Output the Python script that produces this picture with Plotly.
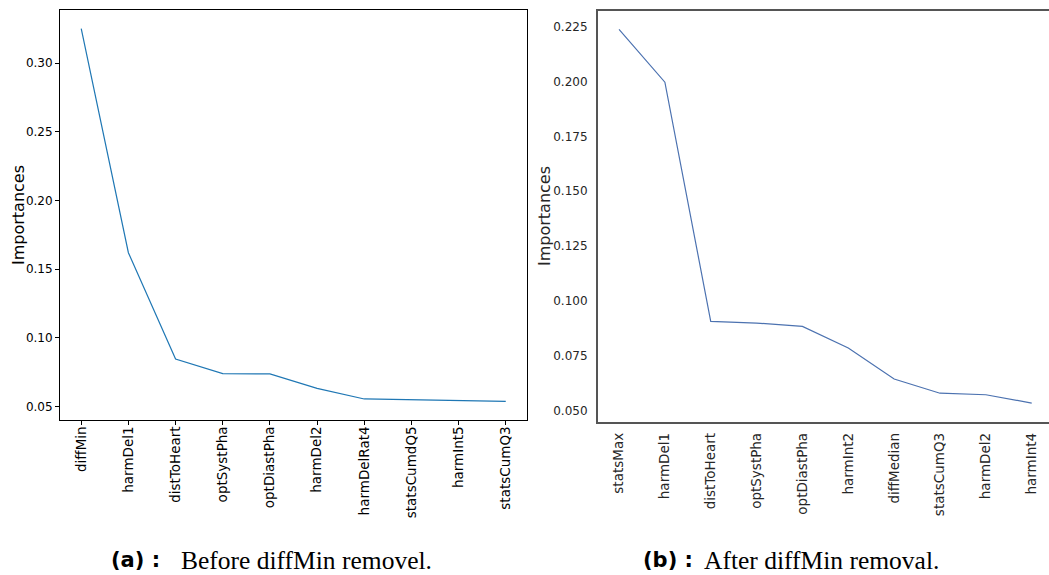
import plotly.graph_objects as go

# Data
feat_a = ["diffMin", "harmDel1", "distToHeart", "optSystPha", "optDiastPha",
          "harmDel2", "harmDelRat4", "statsCumdQ5", "harmInt5", "statsCumQ3"]
imp_a = [0.325, 0.162, 0.0847, 0.0740, 0.0738, 0.0633, 0.0556, 0.0551, 0.0544, 0.0539]

feat_b = ["statsMax", "harmDel1", "distToHeart", "optSystPha", "optDiastPha",
          "harmInt2", "diffMedian", "statsCumQ3", "harmDel2", "harmInt4"]
imp_b = [0.2238, 0.1997, 0.0906, 0.0898, 0.0883, 0.0784, 0.0643, 0.0578, 0.0571, 0.0533]

yticks_a = [0.05, 0.10, 0.15, 0.20, 0.25, 0.30]
yticks_b = [0.050, 0.075, 0.100, 0.125, 0.150, 0.175, 0.200, 0.225]

W, H = 1049, 575
fig = go.Figure()
fig.add_trace(go.Scatter(x=list(range(len(feat_a))), y=imp_a, mode="lines",
                         line=dict(color="#1f77b4", width=1.2), xaxis="x", yaxis="y",
                         showlegend=False))
fig.add_trace(go.Scatter(x=list(range(len(feat_b))), y=imp_b, mode="lines",
                         line=dict(color="#4c72b0", width=1.2), xaxis="x2", yaxis="y2",
                         showlegend=False))

xfont_a = dict(family="DejaVu Sans", size=13.5, color="black")
yfont_a = dict(family="DejaVu Sans", size=12, color="black")
xfont_b = dict(family="DejaVu Sans", size=13.5, color="#262626")
yfont_b = dict(family="DejaVu Sans", size=12, color="#262626")

fig.update_layout(
    width=W, height=H,
    margin=dict(l=0, r=0, t=0, b=0),
    paper_bgcolor="white", plot_bgcolor="white",
    xaxis=dict(domain=[60/W, 527/W], anchor="y", range=[-0.45, 9.45],
               tickmode="array", tickvals=list(range(len(feat_a))), ticktext=feat_a,
               tickangle=-90, tickfont=xfont_a, ticks="outside", ticklen=4,
               ticklabelstandoff=-4,
               tickcolor="black", showline=True, linecolor="black", linewidth=1,
               mirror=True, showgrid=False, zeroline=False),
    yaxis=dict(domain=[1-420/H, 1-10/H], anchor="x", range=[0.0403, 0.3386],
               tickmode="array", tickvals=yticks_a, tickformat=".2f",
               tickfont=yfont_a, ticks="outside", ticklen=4, tickcolor="black",
               showline=True, linecolor="black", linewidth=1, mirror=True,
               showgrid=False, zeroline=False),
    xaxis2=dict(domain=[597.7/W, 1.0], anchor="y2", range=[-0.465, 9.377],
                tickmode="array", tickvals=list(range(len(feat_b))), ticktext=feat_b,
                tickangle=-90, tickfont=xfont_b, ticks="", ticklabelstandoff=4,
                showline=True, linecolor="#555555", linewidth=1.5, mirror=True,
                showgrid=False, zeroline=False),
    yaxis2=dict(domain=[1-421.7/H, 1-10.7/H], anchor="x2", range=[0.0448, 0.2323],
                tickmode="array", tickvals=yticks_b, tickformat=".3f",
                tickfont=yfont_b, ticks="", ticklabelstandoff=6,
                showline=True, linecolor="#555555", linewidth=1.5, mirror=False,
                showgrid=False, zeroline=False),
)

annos = [
    dict(text="Importances", x=18/W, y=1-215/H, textangle=-90,
         font=dict(family="DejaVu Sans", size=16, color="black")),
    dict(text="Importances", x=545/W, y=1-216/H, textangle=-90,
         font=dict(family="DejaVu Sans", size=16, color="#262626")),
    dict(text="<b>(a) :</b>", x=135/W, y=1-560/H,
         font=dict(family="DejaVu Sans", size=21, color="black")),
    dict(text="Before diffMin removel.", x=306/W, y=1-560/H,
         font=dict(family="Liberation Serif", size=25.5, color="black")),
    dict(text="<b>(b) :</b>", x=668/W, y=1-560/H,
         font=dict(family="DejaVu Sans", size=21, color="black")),
    dict(text="After diffMin removal.", x=821/W, y=1-560/H,
         font=dict(family="Liberation Serif", size=25.5, color="black")),
]
for a in annos:
    a.update(xref="paper", yref="paper", showarrow=False, xanchor="center", yanchor="middle")
    fig.add_annotation(**a)

fig.write_html("out.html", config={"displayModeBar": False},
               post_script="document.body.style.margin='0';document.body.style.overflow='hidden';")
